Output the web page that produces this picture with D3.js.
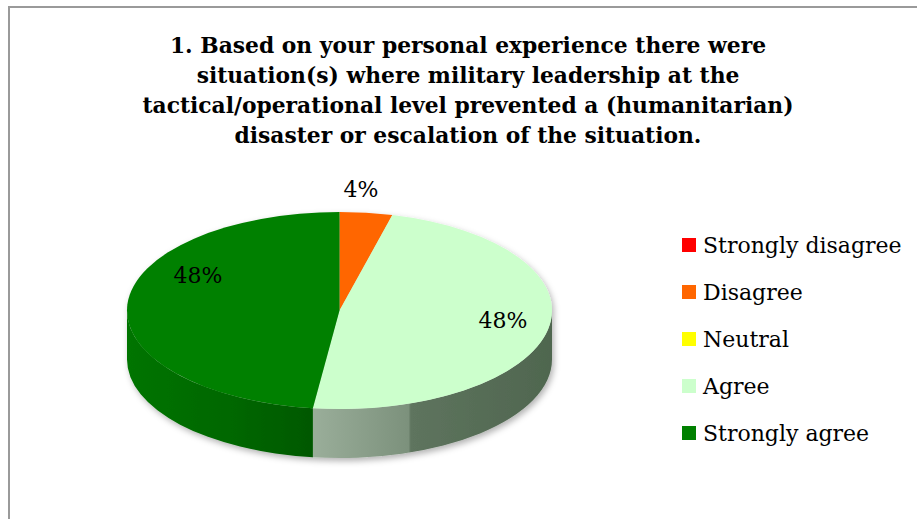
<!DOCTYPE html>
<meta charset="utf-8">
<title>Military leadership survey - question 1</title>
<script src="https://d3js.org/d3.v7.js"></script>
<style>
  body { margin: 0; background: #fff; }
  svg { display: block; }
</style>
<div id="my_dataviz"></div>
<script>

// survey answers, question 1
const categories = ["Strongly disagree", "Disagree", "Neutral", "Agree", "Strongly agree"];
const values = [0, 4, 0, 48, 48];
const labels = ["0%", "4%", "0%", "48%", "48%"];
const titleLines = [
  "1. Based on your personal experience there were",
  "situation(s) where military leadership at the",
  "tactical/operational level prevented a (humanitarian)",
  "disaster or escalation of the situation."
];

const colors = ["#ff0000", "#ff6600", "#ffff00", "#ccffcc", "#008000"];

const width = 917, height = 519;

const svg = d3.select("#my_dataviz")
  .append("svg")
    .attr("width", width)
    .attr("height", height);

// chart frame (cut off right and bottom like the original)
svg.append("rect")
  .attr("x", 9).attr("y", 7)
  .attr("width", 1000).attr("height", 600)
  .attr("fill", "none")
  .attr("stroke", "#9a9a9a")
  .attr("stroke-width", 2);

// title
svg.append("g")
  .selectAll("text")
  .data(titleLines)
  .join("text")
    .attr("x", 468)
    .attr("y", (d, i) => 53 + i * 30)
    .attr("text-anchor", "middle")
    .attr("font-family", "DejaVu Serif")
    .attr("font-weight", "bold")
    .attr("font-size", 21.8)
    .attr("fill", "#000")
    .text(d => d);

// pie geometry (ellipse seen at an angle)
const cx = 339.5, cy = 310.5, rx = 212.5, ry = 98.5, depth = 49;

const color = d3.scaleOrdinal().domain(categories).range(colors);

const pie = d3.pie().sort(null).value(d => d.value);
const data = categories.map((c, i) => ({cat: c, value: values[i], label: labels[i]}));
const arcs = pie(data);

const px = a => cx + rx * Math.sin(a);
const py = a => cy - ry * Math.cos(a);

function topPath(d) {
  const large = (d.endAngle - d.startAngle) > Math.PI ? 1 : 0;
  return `M${cx},${cy}L${px(d.startAngle)},${py(d.startAngle)}` +
    `A${rx},${ry} 0 ${large} 1 ${px(d.endAngle)},${py(d.endAngle)}Z`;
}

// only the front half of the rim is visible
function sidePath(d) {
  const s0 = Math.max(d.startAngle, Math.PI / 2);
  const s1 = Math.min(d.endAngle, Math.PI * 1.5);
  if (s1 <= s0) return null;
  return `M${px(s0)},${py(s0)}A${rx},${ry} 0 0 1 ${px(s1)},${py(s1)}` +
    `L${px(s1)},${py(s1) + depth}A${rx},${ry} 0 0 0 ${px(s0)},${py(s0) + depth}Z`;
}

const defs = svg.append("defs");

const shadow = defs.append("filter").attr("id", "shadow")
  .attr("x", "-10%").attr("y", "-10%").attr("width", "120%").attr("height", "130%");
shadow.append("feDropShadow")
  .attr("dx", 2).attr("dy", 3).attr("stdDeviation", 3)
  .attr("flood-color", "#000").attr("flood-opacity", 0.3);

// side shading per slice
const sideStops = {
  "Agree": [[0, "#9aae9a"], [0.4, "#7c917c"], [0.41, "#5e745e"], [1, "#4f664f"]],
  "Strongly agree": [[0, "#007400"], [0.6, "#006600"], [1, "#005800"]],
  "Disagree": [[0, "#cc5200"], [1, "#a04000"]]
};
Object.entries(sideStops).forEach(([k, stops]) => {
  const g = defs.append("linearGradient")
    .attr("id", "side" + categories.indexOf(k))
    .attr("x1", "0%").attr("x2", "100%").attr("y1", "0%").attr("y2", "0%");
  g.selectAll("stop").data(stops).join("stop")
    .attr("offset", d => d[0])
    .attr("stop-color", d => d[1]);
});

const pieG = svg.append("g").attr("filter", "url(#shadow)");

pieG.selectAll("path.side")
  .data(arcs.filter(d => d.value > 0 && sidePath(d)))
  .join("path")
    .attr("class", "side")
    .attr("d", sidePath)
    .attr("fill", d => `url(#side${categories.indexOf(d.data.cat)})`);

pieG.selectAll("path.top")
  .data(arcs.filter(d => d.value > 0))
  .join("path")
    .attr("class", "top")
    .attr("d", topPath)
    .attr("fill", d => color(d.data.cat));

// data labels
const labelPos = {
  "Disagree": [361, 197],
  "Agree": [503, 328],
  "Strongly agree": [198, 283]
};
svg.append("g")
  .selectAll("text")
  .data(arcs.filter(d => d.value > 0))
  .join("text")
    .attr("x", d => labelPos[d.data.cat][0])
    .attr("y", d => labelPos[d.data.cat][1])
    .attr("text-anchor", "middle")
    .attr("font-family", "DejaVu Serif")
    .attr("font-size", 22)
    .attr("fill", "#000")
    .text(d => d.data.label);

// legend
const ly = d3.scalePoint().domain(categories).range([245, 433]);
const legend = svg.append("g")
  .selectAll("g")
  .data(categories)
  .join("g")
    .attr("transform", d => `translate(682,${ly(d)})`);

legend.append("rect")
  .attr("x", 0).attr("y", -7)
  .attr("width", 14).attr("height", 14)
  .attr("fill", d => color(d));

legend.append("text")
  .attr("x", 21)
  .attr("y", 8)
  .attr("font-family", "DejaVu Serif")
  .attr("font-size", 22)
  .attr("fill", "#000")
  .text(d => d);

</script>
